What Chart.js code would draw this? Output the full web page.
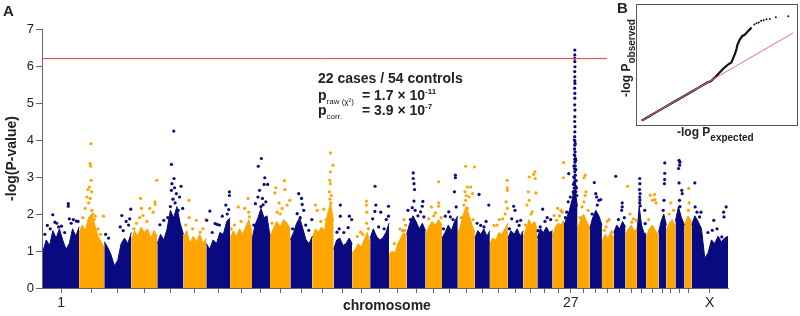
<!DOCTYPE html>
<html>
<head>
<meta charset="utf-8">
<script src="https://cdn.jsdelivr.net/npm/chart.js@4.4.0/dist/chart.umd.min.js"></script>
<style>
  body { margin: 0; background: #fff; }
  #wrap { position: relative; width: 800px; height: 316px; font-family: "Liberation Sans", Arial, sans-serif; color: #222; }
  #main { position: absolute; left: 0; top: 0; }
  #qqbox { position: absolute; left: 636px; top: 4px; width: 162px; height: 122px; border: 1px solid #555; box-sizing: border-box; }
  #qq { position: absolute; left: 0; top: 0; }
  .lbl { position: absolute; font-weight: bold; white-space: nowrap; line-height: 16px; }
  .lbl sub, .lbl sup { font-size: 8px; line-height: 0; }
</style>
</head>
<body>
<div id="wrap">
  <canvas id="main" width="800" height="316"></canvas>
  <div id="qqbox"><canvas id="qq" width="160" height="120"></canvas></div>

  <div class="lbl" style="left:3px; top:3px; font-size:15px;">A</div>
  <div class="lbl" style="left:617px; top:0px; font-size:15px;">B</div>

  <div class="lbl" style="left:318px; top:70px; font-size:14px;">22 cases / 54 controls</div>
  <div class="lbl" style="left:318px; top:87px; font-size:14px;">p<sub style="font-weight:normal">raw (χ²)</sub></div>
  <div class="lbl" style="left:362px; top:87px; font-size:14px;">= 1.7 × 10<sup>-11</sup></div>
  <div class="lbl" style="left:318px; top:102px; font-size:14px;">p<sub style="font-weight:normal">corr.</sub></div>
  <div class="lbl" style="left:362px; top:102px; font-size:14px;">= 3.9 × 10<sup>-7</sup></div>

  <div class="lbl" style="left:343px; top:297px; font-size:14px;">chromosome</div>

  <div class="lbl" style="left:677px; top:124px; font-size:12px;">-log P<span style="font-size:10px; position:relative; top:5px;">expected</span></div>
  <div class="lbl" style="left:626px; top:58px; font-size:12px; transform: translate(-50%, -50%) rotate(-90deg);">-log P<span style="font-size:10px; position:relative; top:5px;">observed</span></div>
</div>

<script>
// chromosome names and sizes (Mb)
var chromNames = ['1','2','3','4','5','6','7','8','9','10','11','12','13','14','15','16','17','18','19','20',
                  '21','22','23','24','25','26','27','28','29','30','31','32','33','34','35','36','37','38','X'];
var chromSizes = [122.7, 85.4, 91.9, 88.3, 88.9, 77.6, 81.0, 74.3, 61.1, 69.3, 74.4, 72.5, 63.2, 61.0, 64.2,
                  59.6, 64.3, 55.8, 53.7, 58.1, 50.9, 61.4, 52.3, 47.7, 51.6, 39.0, 45.9, 41.2, 41.8, 40.2,
                  39.8, 38.8, 31.4, 42.1, 26.5, 30.8, 30.9, 23.9, 123.9];
var shownLabels = ['1', '27', 'X'];

// upper edge of the dense cloud of SNPs, evenly spaced along each chromosome (-log P)
var envelope = [
  [1.0, 1.3, 1.15, 1.55, 1.35, 1.6, 1.3, 1.05, 1.2, 1.6, 1.4, 1.65],
  [1.5, 1.7, 1.55, 1.9, 2.0, 1.7, 1.4, 1.25, 1.1],
  [1.25, 1.1, 0.9, 0.6, 0.75, 1.2, 1.35, 1.2, 1.5],
  [1.3, 1.55, 1.4, 1.65, 1.5, 1.6, 1.35, 1.55, 1.4],
  [1.2, 1.45, 1.3, 1.6, 2.1, 1.9, 2.2, 1.75, 1.45],
  [1.35, 1.55, 1.2, 1.4, 1.25, 1.45, 1.2, 1.35],
  [1.2, 1.05, 1.3, 1.2, 1.5, 1.45, 1.8, 1.9],
  [1.35, 1.55, 1.4, 1.6, 1.45, 1.65, 1.85, 1.5],
  [1.3, 1.7, 1.9, 2.15, 1.9, 1.95, 1.4],
  [1.4, 1.6, 1.8, 1.65, 1.85, 1.75, 1.6],
  [1.3, 1.5, 1.75, 1.9, 1.6, 1.3, 1.2, 1.4],
  [1.35, 1.6, 1.5, 1.65, 1.55, 2.0, 2.3, 1.8],
  [1.05, 1.3, 1.35, 1.15, 1.2, 1.35, 1.2],
  [0.95, 1.05, 1.2, 1.1, 1.3, 1.5, 1.2],
  [1.35, 1.6, 1.4, 1.3, 1.35, 1.5, 1.75],
  [0.9, 1.0, 0.95, 1.2, 1.35, 1.5, 1.4],
  [1.45, 1.75, 1.95, 1.8, 1.6, 1.75, 1.55],
  [1.45, 1.65, 1.8, 1.7, 1.85, 1.7],
  [1.35, 1.5, 1.7, 1.55, 1.8, 1.95],
  [1.45, 1.7, 2.0, 2.2, 1.95, 1.7, 1.5],
  [1.35, 1.55, 1.45, 1.6, 1.4, 1.55],
  [1.2, 1.35, 1.3, 1.5, 1.45, 1.6, 1.75],
  [1.35, 1.55, 1.45, 1.6, 1.4, 1.55],
  [1.35, 1.6, 1.85, 1.7, 1.8, 1.55],
  [1.35, 1.6, 1.5, 1.65, 1.5, 1.55],
  [1.4, 1.65, 1.75, 1.7, 1.85],
  [1.7, 1.9, 2.1, 2.4, 2.7, 2.2],
  [1.6, 1.85, 2.0, 1.8, 1.65],
  [1.6, 1.9, 2.1, 1.95, 1.7],
  [1.25, 1.45, 1.35, 1.5, 1.35],
  [1.5, 1.7, 1.6, 1.8, 1.65],
  [1.45, 1.6, 1.7, 1.55, 1.6],
  [1.5, 2.2, 1.7, 1.5, 1.45],
  [1.35, 1.6, 1.7, 1.55, 1.45],
  [1.5, 1.8, 2.0, 1.7],
  [1.55, 1.75, 1.85, 1.65],
  [1.8, 2.2, 1.9, 1.7],
  [1.7, 1.95, 1.8],
  [1.7, 1.95, 1.8, 1.6, 0.8, 0.95, 1.3, 1.2, 1.4, 1.25, 1.35, 1.4]
];

// single SNPs above the cloud: [relative position on chromosome, -log P]
var peaks = [
  [[.12,1.69],[.27,1.98],[.33,1.78],[.43,1.65],[.51,1.67],[.70,2.28],[.70,2.21],[.73,1.87],[.84,1.85],[.92,1.81],[.2,1.6],[.6,1.5],[.05,1.45],[.38,1.75],[.78,1.75],[.97,1.8]],
  [[.47,3.9],[.44,3.36],[.46,3.29],[.48,2.91],[.41,2.73],[.35,2.66],[.5,2.6],[.31,2.46],[.44,2.42],[.24,2.15],[.51,2.1],[.64,1.94],[.97,1.94],[.38,2.3],[.55,2.0],[.15,1.9],[.6,1.85],[.75,1.6],[.85,1.45]],
  [[.98,2.13],[.65,1.96],[.81,1.8],[.59,1.65],[.16,1.35],[.94,1.87],[.9,1.7],[.05,1.45],[.7,1.55]],
  [[.98,2.91],[.91,2.33],[.92,2.26],[.36,2.42],[.39,2.15],[.71,2.15],[.45,1.96],[.32,1.9],[.84,2.05],[.6,1.8],[.1,1.6],[.2,1.75]],
  [[.63,4.24],[.54,3.34],[.64,2.96],[.56,2.82],[.66,2.71],[.91,2.75],[.54,2.64],[.73,2.55],[.85,2.46],[.97,2.15],[.25,1.83],[.1,1.71],[.6,2.4],[.68,2.3],[.5,2.2],[.4,1.9],[.8,2.1]],
  [[.24,2.37],[.25,1.9],[.56,1.83],[.98,1.85],[.73,1.51],[.4,1.6],[.1,1.7],[.85,1.6]],
  [[.97,2.6],[.97,2.5],[.82,2.24],[.94,2.12],[.15,2.08],[.67,1.94],[.37,1.74],[.45,1.72],[.02,1.83],[.88,2.0],[.55,1.7],[.25,1.5]],
  [[.82,2.42],[.37,2.19],[.66,2.15],[.85,2.05],[.88,1.92],[.2,1.7],[.5,1.8],[.05,1.6]],
  [[.52,3.5],[.35,3.29],[.71,2.98],[.87,2.8],[.67,2.8],[.42,2.64],[.33,2.46],[.58,2.42],[.77,2.33],[.19,2.28],[.5,2.2],[.62,2.25],[.1,1.7]],
  [[.71,2.9],[.29,2.71],[.73,2.66],[.24,2.57],[.44,2.3],[.97,2.37],[.84,2.24],[.6,2.15],[.5,2.0],[.1,1.75],[.35,2.05]],
  [[.38,2.55],[.51,2.42],[.54,2.26],[.61,2.1],[.31,2.01],[.98,1.85],[.84,1.56],[.45,1.9],[.1,1.6],[.7,1.7]],
  [[.85,3.65],[.97,3.32],[.85,3.14],[.82,2.91],[.85,2.82],[.8,2.6],[.89,2.5],[.54,2.13],[.15,2.24],[.23,2.1],[.83,2.4],[.87,2.3],[.4,1.8],[.65,1.85]],
  [[.36,2.24],[.36,1.94],[.85,1.94],[.97,1.85],[.78,1.63],[.18,1.51],[.55,1.5],[.3,1.6]],
  [[.79,2.35],[.79,2.24],[.81,2.05],[.47,1.51],[.28,1.39],[.8,1.75],[.9,1.6],[.6,1.45]],
  [[.26,2.75],[.3,2.24],[.25,2.07],[.56,2.05],[.97,2.21],[.97,1.94],[.13,1.87],[.74,1.6],[.45,1.65],[.85,1.85]],
  [[.85,1.85],[.62,1.6],[.89,1.56],[.76,1.55],[.3,1.2],[.95,1.7]],
  [[.35,3.11],[.35,2.96],[.39,2.82],[.42,2.66],[.39,2.35],[.86,2.34],[.83,2.21],[.07,2.1],[.3,2.17],[.74,2.06],[.91,1.92],[.45,2.1],[.6,1.95],[.2,1.85]],
  [[.8,2.87],[.8,2.3],[.8,2.21],[.36,2.19],[.6,2.03],[.2,1.87],[.5,1.95],[.95,1.9]],
  [[.85,3.05],[.85,2.98],[.79,2.6],[.43,2.06],[.53,1.92],[.21,1.94],[.9,2.19],[.7,1.85],[.1,1.6]],
  [[.46,3.29],[.98,3.27],[.56,2.73],[.42,2.6],[.76,2.73],[.86,2.55],[.66,2.46],[.46,2.37],[.36,2.24],[.56,2.15],[.5,2.5],[.2,1.9],[.9,1.85]],
  [[.28,2.53],[.93,2.24],[.39,1.69],[.61,1.65],[.15,1.75],[.75,1.8]],
  [[.96,2.91],[.96,2.71],[.97,2.64],[.9,2.33],[.97,2.15],[.52,1.85],[.71,1.87],[.23,1.69],[.85,2.0],[.4,1.7]],
  [[.37,2.21],[.46,2.1],[.25,1.87],[.83,1.83],[.73,1.69],[.1,1.6],[.6,1.8]],
  [[.83,3.14],[.74,3.07],[.42,3.0],[.36,2.6],[.42,2.37],[.26,2.24],[.64,2.06],[.85,2.96],[.9,2.57],[.15,1.7],[.55,2.0]],
  [[.35,2.13],[.65,1.9],[.88,1.85],[.19,1.65],[.5,1.8],[.05,1.55]],
  [[.97,3.39],[.94,2.98],[.44,2.15],[.73,2.1],[.14,1.96],[.35,1.83],[.6,1.95],[.85,2.05]],
  [[.35,3.09],[.47,2.46],[.31,2.33],[.2,2.05],[.1,1.9],
   [.80,6.43],[.80,6.30],[.79,6.21],[.80,6.12],[.81,5.98],[.79,5.85],[.80,5.71],[.80,5.60],[.81,5.53],[.79,5.40],
   [.80,5.26],[.80,5.13],[.79,4.95],[.81,4.81],[.80,4.63],[.79,4.50],[.81,4.36],[.80,4.22],[.79,4.09],[.81,3.97],
   [.80,3.86],[.78,3.76],[.82,3.68],[.80,3.58],[.79,3.48],[.81,3.40],[.83,3.30],[.78,3.22],[.80,3.14],[.84,3.05],
   [.77,2.98],[.82,2.90],[.79,2.82],[.86,2.75],[.75,2.70],[.81,2.62],[.88,2.60],[.73,2.55],[.84,2.50],
   [.76,3.6],[.86,3.45],[.74,3.3],[.88,3.2],[.72,3.0],[.9,2.9],[.76,2.85],[.85,3.5],[.77,4.0],[.83,3.9],
   [.7,2.8],[.92,2.7],[.68,2.6],[.95,2.5]],
  [[.63,3.05],[.53,2.98],[.7,2.6],[.63,2.5],[.53,2.33],[.37,2.19],[.87,2.1],[.2,1.9]],
  [[.38,2.85],[.5,2.55],[.57,2.46],[.74,2.37],[.9,2.39],[.62,2.24],[.2,2.0]],
  [[.6,1.85],[.45,1.8],[.2,1.56],[.8,1.51],[.35,1.65]],
  [[.17,3.02],[.72,2.3],[.72,2.19],[.67,2.1],[.4,1.85],[.9,1.9]],
  [[.18,2.75],[.7,1.87],[.95,1.83],[.55,1.78],[.4,2.0]],
  [[.3,2.96],[.32,2.82],[.28,2.66],[.35,2.55],[.3,2.46],[.33,2.38],[.29,2.3],[.36,2.22],[.85,2.1],[.9,1.74]],
  [[.33,2.51],[.67,2.53],[.7,2.39],[.5,2.37],[.8,2.3],[.2,1.85]],
  [[.8,3.38],[.8,3.1],[.78,2.93],[.75,2.82],[.7,2.37],[.6,2.1]],
  [[.5,2.3],[.8,2.1],[.3,2.0]],
  [[.4,3.45],[.5,3.4],[.45,3.32],[.35,3.23],[.4,2.84],[.7,2.64],[.75,2.55],[.45,2.37],[.5,2.2]],
  [[.6,2.69],[.65,2.3],[.55,2.1]],
  [[.09,2.84],[.26,2.05],[.22,1.92],[.61,1.83],[.57,1.56],[.88,2.05],[.95,2.19],[.89,1.92],[.83,1.38],[.1,2.19],[.15,2.05],[.7,1.6],[.45,1.5]]
];

var threshold = 6.2;       // genome-wide significance line
var thresholdEnd = 1916;   // the line stops short of panel B

// QQ plot (panel B): expected vs observed -log P
var qqExpected = [0, 0.3, 0.6, 0.9, 1.2, 1.5, 1.8, 2.1, 2.4, 2.53, 2.70, 2.87, 3.04, 3.15, 3.27, 3.34, 3.41, 3.46,
                  3.49, 3.57, 3.66, 3.75, 3.83, 3.91, 4.00];
var qqObserved = [0, 0.3, 0.6, 0.9, 1.2, 1.5, 1.8, 2.1, 2.4, 2.50, 2.76, 3.08, 3.37, 3.53, 3.66, 3.95, 4.24, 4.53,
                  4.76, 5.07, 5.30, 5.39, 5.53, 5.68, 5.84];
var qqTopExpected = [4.10, 4.18, 4.26, 4.35, 4.44, 4.54, 4.66, 4.88, 5.33];
var qqTopObserved = [6.03, 6.11, 6.16, 6.26, 6.30, 6.36, 6.38, 6.49, 6.55];

var BLUE = '#0a0a80';
var ORANGE = '#ffa500';

var offsets = [];
var total = 0;
for (var i = 0; i < chromSizes.length; i++) {
    offsets.push(total);
    total += chromSizes[i];
}
var centers = offsets.map(function(o, i) { return o + chromSizes[i] / 2; });

var datasets = [];
var bluePts = [];
var orangePts = [];

for (var i = 0; i < chromSizes.length; i++) {
    var color = (i % 2 == 0) ? BLUE : ORANGE;
    var env = envelope[i];
    var n = env.length;
    datasets.push({
        type: 'line',
        data: env.map(function(v, k) { return { x: offsets[i] + chromSizes[i] * k / (n - 1), y: v }; }),
        borderColor: color,
        backgroundColor: color,
        borderWidth: 1,
        pointRadius: 0,
        fill: 'origin',
        tension: 0,
        order: 3
    });
    var target = (i % 2 == 0) ? bluePts : orangePts;
    peaks[i].forEach(function(p) {
        target.push({ x: offsets[i] + p[0] * chromSizes[i], y: p[1] });
    });
}

datasets.push({ type: 'scatter', data: bluePts, backgroundColor: BLUE, pointRadius: 1.6, borderWidth: 0, order: 2 });
datasets.push({ type: 'scatter', data: orangePts, backgroundColor: ORANGE, pointRadius: 1.6, borderWidth: 0, order: 2 });
datasets.push({
    type: 'line',
    data: [{ x: -3.4, y: threshold }, { x: thresholdEnd, y: threshold }],
    borderColor: '#e8403f',
    borderWidth: 1,
    pointRadius: 0,
    order: 1
});

new Chart(document.getElementById('main'), {
    type: 'scatter',
    data: { datasets: datasets },
    options: {
        responsive: false,
        animation: false,
        layout: { padding: { top: 29, right: 72, left: 0, bottom: 0 } },
        plugins: { legend: { display: false }, tooltip: { enabled: false } },
        scales: {
            x: {
                type: 'linear',
                min: -3.4,
                max: total,
                afterBuildTicks: function(scale) {
                    scale.ticks = centers.map(function(c) { return { value: c }; });
                },
                afterFit: function(scale) { scale.height = 28; },
                ticks: {
                    autoSkip: false,
                    maxRotation: 0,
                    padding: 2,
                    color: '#222',
                    font: { family: 'Liberation Sans', size: 14 },
                    callback: function(value, index) {
                        var name = chromNames[index];
                        return shownLabels.indexOf(name) >= 0 ? name : '';
                    }
                },
                grid: { drawOnChartArea: false, drawTicks: true, tickLength: 5, color: '#666' },
                border: { color: '#666' }
            },
            y: {
                min: 0,
                max: 7,
                afterFit: function(scale) { scale.width = 42; },
                ticks: {
                    stepSize: 1,
                    padding: 2,
                    color: '#222',
                    font: { family: 'Liberation Sans', size: 13 }
                },
                grid: { drawOnChartArea: false, drawTicks: true, tickLength: 6, color: '#666' },
                border: { color: '#666' },
                title: {
                    display: true,
                    text: '-log(P-value)',
                    color: '#222',
                    padding: 4,
                    font: { family: 'Liberation Sans', size: 14, weight: 'bold' }
                }
            }
        }
    }
});

// panel B: QQ plot
new Chart(document.getElementById('qq'), {
    type: 'scatter',
    data: {
        datasets: [
            {
                data: [{ x: 0, y: 0 }, { x: 5.5, y: 5.5 }],
                showLine: true,
                borderColor: '#e57373',
                borderWidth: 1,
                pointRadius: 0,
                order: 1
            },
            {
                data: qqExpected.map(function(e, i) { return { x: e, y: qqObserved[i] }; }),
                showLine: true,
                borderColor: '#111',
                borderWidth: 2.2,
                pointRadius: 0,
                order: 2
            },
            {
                data: qqTopExpected.map(function(e, i) { return { x: e, y: qqTopObserved[i] }; }),
                backgroundColor: '#111',
                pointRadius: 1,
                borderWidth: 0,
                order: 2
            }
        ]
    },
    options: {
        responsive: false,
        animation: false,
        layout: { padding: 0 },
        plugins: { legend: { display: false }, tooltip: { enabled: false } },
        scales: {
            x: { display: false, min: 0, max: 5.5 },
            y: { display: false, min: 0, max: 7 }
        }
    }
});
</script>
</body>
</html>
